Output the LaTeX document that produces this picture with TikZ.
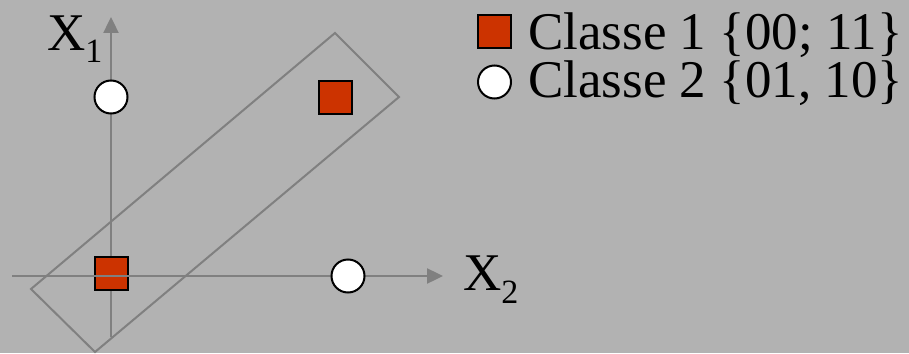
\documentclass[tikz,border=0pt]{standalone}
\usepackage{fontspec}
\setmainfont{Liberation Serif}
\usetikzlibrary{arrows.meta}
\definecolor{bgc}{HTML}{B2B2B2}
\definecolor{axc}{HTML}{808080}
\definecolor{redc}{HTML}{CC3300}
\tikzset{
  axis/.style={draw=axc, line width=2.4pt},
  axarrow/.style={axis, -{Triangle[width=15pt,length=16pt]}},
  cls1/.style={draw=black, line width=2pt, fill=redc, minimum size=33pt, inner sep=0pt, rectangle},
  cls2/.style={draw=black, line width=2pt, fill=white, circle, minimum size=33pt, inner sep=0pt},
  bigtxt/.style={inner sep=0pt, anchor=base west, font=\fontsize{53}{53}\selectfont},
}
\begin{document}
\begin{tikzpicture}[x=1pt,y=-1pt]
\fill[bgc] (0,0) rectangle (909,353);
\useasboundingbox (0,0) rectangle (909,353);
% enclosing rectangle
\draw[axc, line width=2pt, line join=miter] (335,33) -- (399,97) -- (95,352) -- (31,289) -- cycle;
% vertical axis
\coordinate (vbot) at (111,337);
\coordinate (vtop) at (111,17);
\draw[axarrow] (vbot) -- (vtop);
% bottom-left square
\node[cls1] (s00) at (111,273.5) {};
% horizontal axis
\coordinate (hleft) at (12,276);
\coordinate (hright) at (443,276);
\draw[axarrow] (hleft) -- (hright);
% points
\node[cls2] (c01) at (111,97) {};
\node[cls2] (c10) at (348,276) {};
\node[cls1] (s11) at (335,97.5) {};
% axis labels
\node[bigtxt] (x1) at (47,50) {X\raisebox{-13pt}{\fontsize{34}{34}\selectfont 1}};
\node[bigtxt] (x2) at (463,290) {X\raisebox{-13pt}{\fontsize{34}{34}\selectfont 2}};
% legend
\node[cls1] (leg1) at (494.5,32) {};
\node[cls2] (leg2) at (494.5,82) {};
\node[bigtxt] (lt1) at (528,49) {Classe 1 \{00; 11\}};
\node[bigtxt] (lt2) at (528,97) {Classe 2 \{01, 10\}};
\end{tikzpicture}
\end{document}
